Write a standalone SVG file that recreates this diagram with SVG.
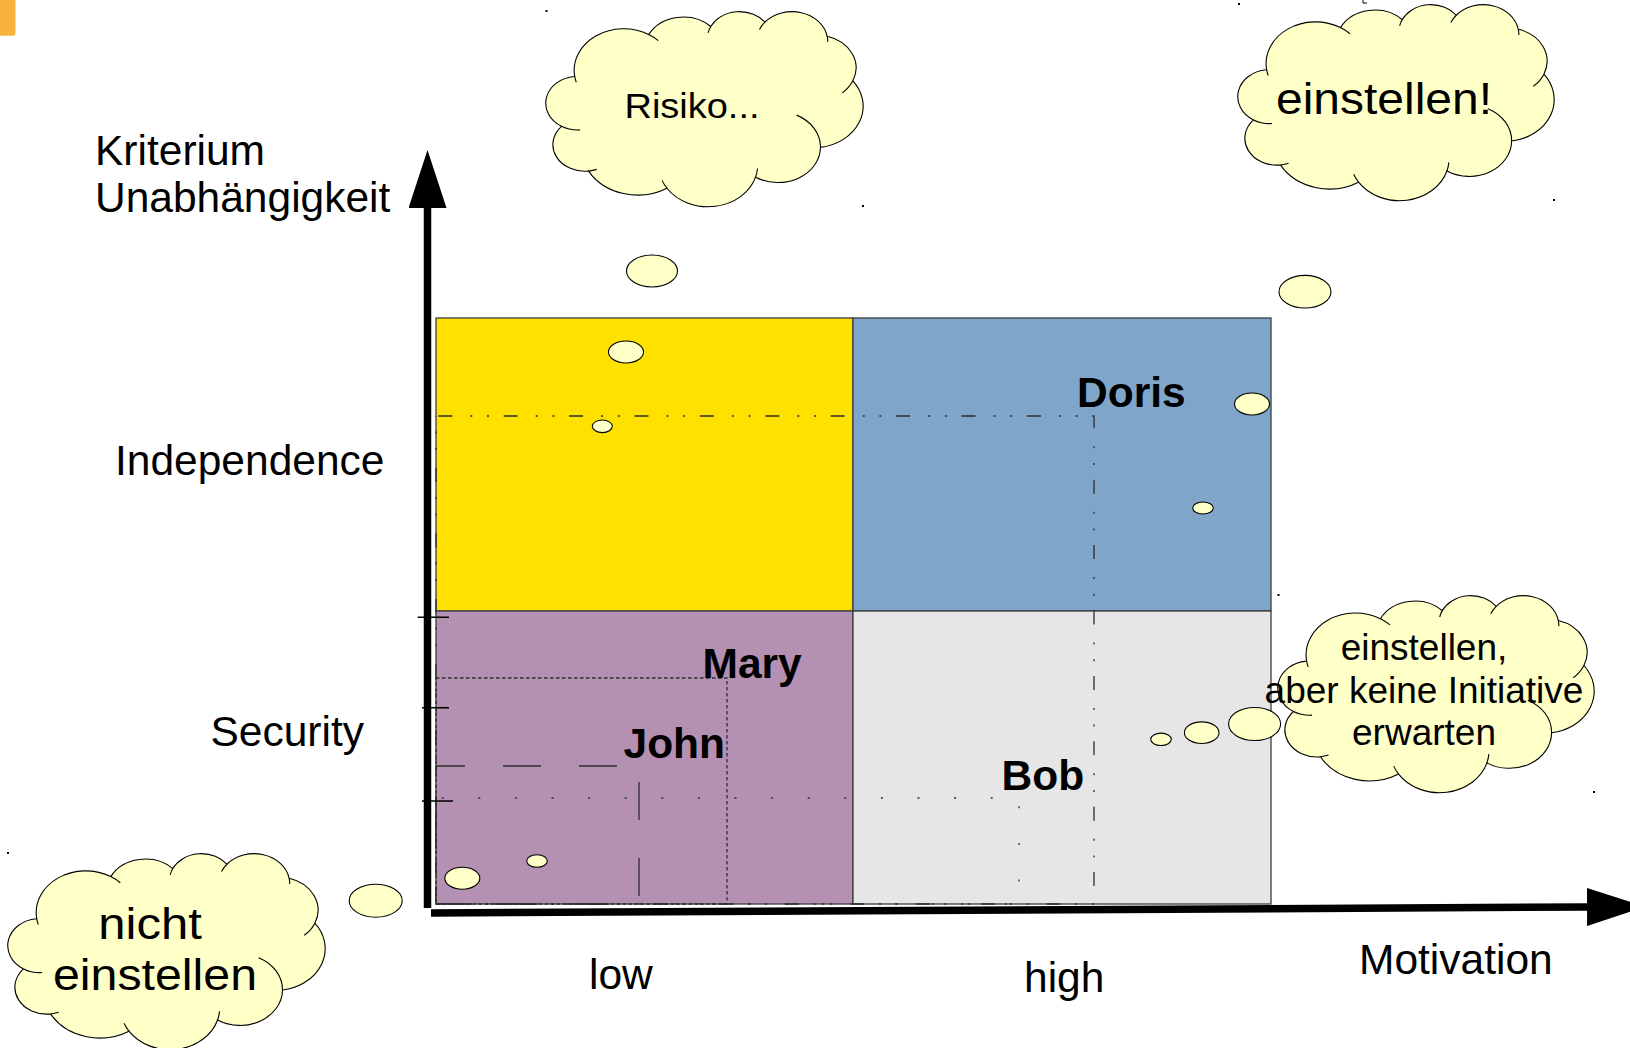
<svg xmlns="http://www.w3.org/2000/svg" width="1630" height="1048" viewBox="0 0 1630 1048">
<defs>
<style>
text{font-family:"Liberation Sans",Arial,sans-serif;fill:#000}
.lbl{font-size:42.5px}
.name{font-size:42.5px;font-weight:bold}
.ctx{text-anchor:middle}
.q{stroke:#3c3c3c;stroke-width:1.3}
.bub{fill:#FFFFC8;stroke:#000;stroke-width:1.1}
.cl{fill:#FFFFC8;stroke:#000;stroke-width:1.1}
.ax{stroke:#000;stroke-width:7.5;fill:none}
.guide{fill:none;stroke:#2e2e2e;stroke-width:1.3}
.dot{fill:#000}
</style>
<marker id="ah" viewBox="0 0 58 38" refX="0" refY="19" markerWidth="58" markerHeight="38" markerUnits="userSpaceOnUse" orient="auto"><path d="M0 0 L58 19 L0 38 Z" fill="#000"/></marker>
<path id="cloud" vector-effect="non-scaling-stroke" d="M3900 14370 A6753 9190 0 0 1 14005 5202 A5333 7267 0 0 1 22457 3432 A4365 5945 0 0 1 29834 2481 A4857 6595 0 0 1 38319 5577 A5333 7273 0 0 1 41819 15460 A6775 9220 0 0 1 37405 30203 A5785 7867 0 0 1 28557 36813 A6752 9215 0 0 1 16481 39264 A7720 10543 0 0 1 5806 35470 A4360 5918 0 0 1 2114 25548 A4345 5945 0 0 1 3865 14505 Z"/>
<path id="cloudIn" vector-effect="non-scaling-stroke" fill="none" d="M4648 26345 A4345 5945 0 0 1 2114 25548 M6914 35088 A4360 5918 0 0 1 5806 35470 M16481 39264 A6752 9215 0 0 1 15814 37524 M28824 34904 A6752 9215 0 0 1 28557 36813 M34153 23067 A5785 7867 0 0 1 37405 30203 M41819 15460 A5333 7273 0 0 1 40372 18135 M38319 5577 A4857 6595 0 0 1 38395 6840 M29092 4092 A4857 6595 0 0 1 29834 2481 M22097 4822 A4365 5945 0 0 1 22457 3432 M14005 5202 A6753 9190 0 0 1 15305 6550 M4127 15788 A6753 9190 0 0 1 3900 14370"/>
</defs>
<rect width="1630" height="1048" fill="#fff"/>
<rect id="corner" x="-5" y="-5" width="20.5" height="40.7" rx="3" fill="#F7B33D"/>
<g id="marks" class="dot">
<rect x="545.5" y="10" width="2" height="2"/><rect x="862" y="205" width="2" height="2"/>
<rect x="1238" y="3" width="2" height="2"/><rect x="1553" y="199" width="2" height="2"/>
<rect x="1277.5" y="594" width="2" height="2"/><rect x="1593" y="791" width="2" height="2"/>
<rect x="7" y="852" width="2" height="2"/>
<path d="M1363 0v3h4" stroke="#000" stroke-width="1" fill="none"/>
</g>
<g id="quadrant-independence-low"><rect class="q" x="436" y="318" width="417" height="293" fill="#FFE100"/></g>
<g id="quadrant-independence-high"><rect class="q" x="853" y="318" width="418" height="293" fill="#7FA5CA"/></g>
<g id="quadrant-security-low"><rect class="q" x="436" y="611" width="417" height="293" fill="#B490B3"/></g>
<g id="quadrant-security-high"><rect class="q" x="853" y="611" width="418" height="293" fill="#E6E6E6"/></g>
<g id="guides">
<rect class="guide" x="436" y="416" width="658" height="488" stroke-dasharray="14 18 2 14.7 2 14.7" stroke-dashoffset="63.1"/>
<rect class="guide" x="436" y="678" width="291" height="226" stroke-dasharray="3.5 2.5"/>
<rect class="guide" x="436" y="766" width="203" height="138" stroke-dasharray="38 38" stroke-dashoffset="9" stroke="#3a3a3a" stroke-width="1.5"/>
<rect class="guide" x="436" y="798" width="583" height="106" stroke-dasharray="2 34.6" stroke-dashoffset="30.9"/>
</g>
<g id="connectors">
<path class="ax" d="M427.5 908 V208" marker-end="url(#ah)"/>
<path class="ax" d="M431 913 L1587 907" marker-end="url(#ah)"/>
<path d="M417.7 617.3H449 M422 707.7H449 M422 801H453" stroke="#000" stroke-width="1.6" fill="none"/>
</g>
<g id="axis-labels">
<text class="lbl" x="95" y="165">Kriterium</text>
<text class="lbl" x="95" y="212">Unabhängigkeit</text>
<text class="lbl" x="115" y="475">Independence</text>
<text class="lbl" x="210.5" y="746">Security</text>
<text class="lbl" x="589" y="989">low</text>
<text class="lbl" x="1024" y="992">high</text>
<text class="lbl" x="1359" y="974">Motivation</text>
</g>
<g id="person-doris"><text class="name" x="1077" y="407">Doris</text></g>
<g id="person-mary"><text class="name" x="702.5" y="678">Mary</text></g>
<g id="person-john"><text class="name" x="623.5" y="758">John</text></g>
<g id="person-bob"><text class="name" x="1001.5" y="790">Bob</text></g>
<g id="bubbles">
<ellipse class="bub" cx="652" cy="271" rx="25.5" ry="16"/>
<ellipse class="bub" cx="626" cy="352" rx="17.5" ry="11"/>
<ellipse class="bub" cx="602.3" cy="426.3" rx="10" ry="6.3"/>
<ellipse class="bub" cx="1305" cy="291.7" rx="26" ry="16.3"/>
<ellipse class="bub" cx="1252" cy="404" rx="17.5" ry="11"/>
<ellipse class="bub" cx="1203" cy="508" rx="10.3" ry="6"/>
<ellipse class="bub" cx="1254.6" cy="724" rx="26" ry="16.5"/>
<ellipse class="bub" cx="1201.7" cy="732.7" rx="17.3" ry="10.8"/>
<ellipse class="bub" cx="1161" cy="739.3" rx="10.3" ry="6.2"/>
<ellipse class="bub" cx="375.7" cy="900.7" rx="26.5" ry="16.5"/>
<ellipse class="bub" cx="462.3" cy="878.3" rx="17.5" ry="11"/>
<ellipse class="bub" cx="537" cy="861" rx="10.3" ry="6.3"/>
</g>
<g id="cloud-risiko">
<use href="#cloud" class="cl" transform="translate(546 11) scale(0.007338 0.004514)"/>
<use href="#cloudIn" class="cl" transform="translate(546 11) scale(0.007338 0.004514)"/>
<text class="ctx" x="692" y="118" font-size="34.5" textLength="135" lengthAdjust="spacingAndGlyphs">Risiko...</text>
</g>
<g id="cloud-einstellen">
<use href="#cloud" class="cl" transform="translate(1238 4) scale(0.007315 0.004537)"/>
<use href="#cloudIn" class="cl" transform="translate(1238 4) scale(0.007315 0.004537)"/>
<text class="ctx" x="1384" y="114" font-size="44" textLength="216" lengthAdjust="spacingAndGlyphs">einstellen!</text>
</g>
<g id="cloud-initiative">
<use href="#cloud" class="cl" transform="translate(1278 595) scale(0.007315 0.00456)"/>
<use href="#cloudIn" class="cl" transform="translate(1278 595) scale(0.007315 0.00456)"/>
<text class="ctx" x="1424" y="660" font-size="37">einstellen,</text>
<text class="ctx" x="1424" y="702.5" font-size="37">aber keine Initiative</text>
<text class="ctx" x="1424" y="745" font-size="37">erwarten</text>
</g>
<g id="cloud-nicht">
<use href="#cloud" class="cl" transform="translate(8 853) scale(0.007338 0.004537)"/>
<use href="#cloudIn" class="cl" transform="translate(8 853) scale(0.007338 0.004537)"/>
<text class="ctx" x="150" y="939" font-size="44" textLength="103.5" lengthAdjust="spacingAndGlyphs">nicht</text>
<text class="ctx" x="155" y="990" font-size="44" textLength="204" lengthAdjust="spacingAndGlyphs">einstellen</text>
</g>
</svg>
